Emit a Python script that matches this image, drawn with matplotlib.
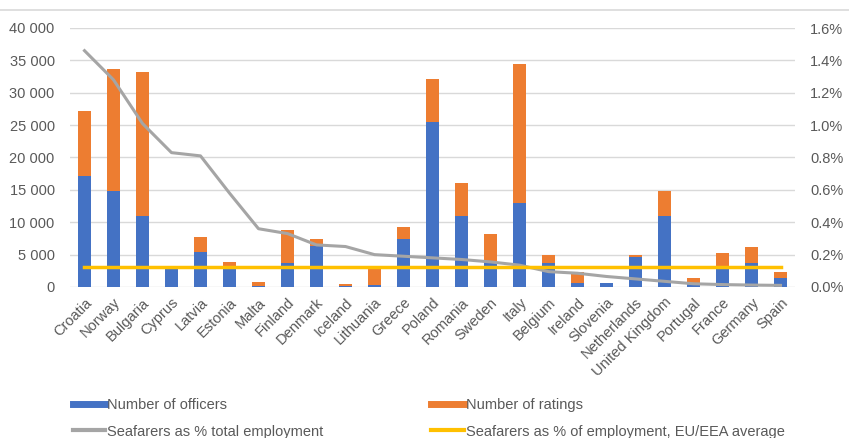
import numpy as np
import matplotlib
matplotlib.use("Agg")
from matplotlib import pyplot as plt
from matplotlib.lines import Line2D
from matplotlib.ticker import FuncFormatter

plt.rcParams['font.family'] = ['Liberation Sans', 'DejaVu Sans']

# Data
countries = ['Croatia', 'Norway', 'Bulgaria', 'Cyprus', 'Latvia', 'Estonia', 'Malta',
             'Finland', 'Denmark', 'Iceland', 'Lithuania', 'Greece', 'Poland', 'Romania',
             'Sweden', 'Italy', 'Belgium', 'Ireland', 'Slovenia', 'Netherlands',
             'United Kingdom', 'Portugal', 'France', 'Germany', 'Spain']
officers = [17200, 14800, 10900, 3000, 5400, 3300, 100, 3700, 6400, 200, 300, 7400,
            25500, 11000, 3700, 12900, 3650, 570, 550, 4700, 11000, 460, 3000, 3660, 1440]
totals = [27200, 33700, 33200, 3000, 7700, 3900, 700, 8800, 7400, 420, 2950, 9300,
          32100, 16000, 8150, 34400, 4900, 2360, 600, 4950, 14900, 1350, 5200, 6150, 2360]
ratings = [t - o for t, o in zip(totals, officers)]
share_pct = [1.46, 1.28, 1.01, 0.83, 0.81, 0.58, 0.36, 0.33, 0.26, 0.25, 0.20, 0.19,
             0.18, 0.17, 0.155, 0.135, 0.095, 0.085, 0.065, 0.05, 0.035, 0.02, 0.015,
             0.012, 0.01]
eu_avg_pct = 0.125

BLUE = '#4472C4'
ORANGE = '#ED7D31'
GREY = '#A5A5A5'
YELLOW = '#FFC000'
TEXT = '#595959'
GRID = '#D9D9D9'

fig = plt.figure(figsize=(8.49, 4.38), dpi=100)
ax = fig.add_axes([70 / 849, 1 - 287 / 438, 725 / 849, 259 / 438])
ax2 = ax.twinx()

x = np.arange(len(countries))
ax.bar(x, officers, width=0.42, color=BLUE, zorder=2)
ax.bar(x, ratings, width=0.42, bottom=officers, color=ORANGE, zorder=2)

ax2.plot(x, np.array(share_pct) / 100, color=GREY, lw=2.2, zorder=3)
ax2.plot(x, [eu_avg_pct / 100] * len(x), color=YELLOW, lw=2.5, zorder=4)

ax.set_xlim(-0.5, len(countries) - 0.5)
ax.set_ylim(0, 40000)
ax.set_yticks(np.arange(0, 40001, 5000))
ax.yaxis.set_major_formatter(FuncFormatter(lambda v, p: f"{int(v):,}".replace(',', ' ')))
ax2.set_ylim(0, 0.016)
ax2.set_yticks(np.arange(0, 0.0161, 0.002))
ax2.yaxis.set_major_formatter(FuncFormatter(lambda v, p: f"{v * 100:.1f}%"))

ax.grid(axis='y', color=GRID, lw=1, zorder=0)
ax.set_axisbelow(True)
for a in (ax, ax2):
    for s in a.spines.values():
        s.set_visible(False)
    a.tick_params(axis='both', length=0, labelsize=10.5, labelcolor=TEXT)
ax.tick_params(axis='y', pad=11)
ax2.tick_params(axis='y', pad=11)
ax.set_xticks(x)
ax.set_xticklabels(countries, rotation=45, ha='right', rotation_mode='anchor')
ax.tick_params(axis='x', pad=6)

# thin frame line at the top of the picture
fig.add_artist(Line2D([0, 1], [1 - 10 / 438, 1 - 10 / 438], color=GRID, lw=1.2,
                      transform=fig.transFigure))

handles = [Line2D([], [], color=BLUE, lw=5),
           Line2D([], [], color=GREY, lw=3),
           Line2D([], [], color=ORANGE, lw=5),
           Line2D([], [], color=YELLOW, lw=3)]
labels = ['Number of officers', 'Seafarers as % total employment',
          'Number of ratings', 'Seafarers as % of employment, EU/EEA average']
fig.legend(handles, labels, ncol=2, loc='upper left', bbox_to_anchor=(73 / 849, 1 - 398 / 438),
           frameon=False, fontsize=10.5, labelcolor=TEXT, handlelength=2.2,
           handletextpad=0.15, columnspacing=7.4, labelspacing=0.86,
           borderpad=0, borderaxespad=0)

fig.savefig('out.png', dpi=100)
